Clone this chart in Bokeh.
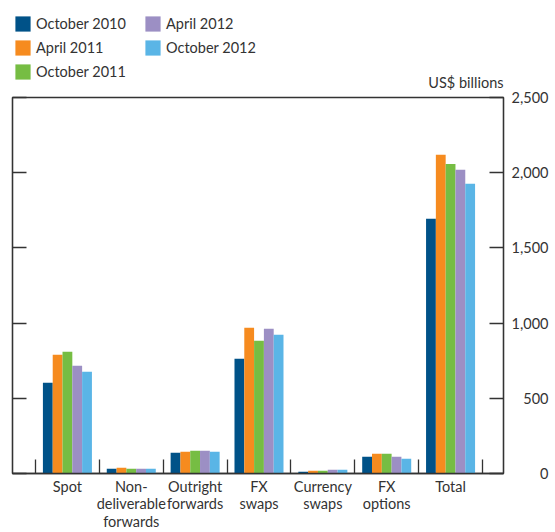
from bokeh.plotting import figure
from bokeh.layouts import column, row
from bokeh.models import (Range1d, LinearAxis, FixedTicker, Legend, LegendItem,
                          ColumnDataSource, Label)
from bokeh.embed import file_html
from bokeh.resources import INLINE

categories = ["Spot", "Non-\ndeliverable\nforwards", "Outright\nforwards", "FX\nswaps",
              "Currency\nswaps", "FX\noptions", "Total"]
series_names = ["October 2010", "April 2011", "October 2011", "April 2012", "October 2012"]
oct_2010 = [603, 31, 138, 763, 11, 111, 1693]
apr_2011 = [789, 38, 144, 969, 18, 131, 2119]
oct_2011 = [809, 31, 151, 882, 18, 131, 2058]
apr_2012 = [716, 31, 151, 962, 25, 111, 2019]
oct_2012 = [676, 31, 144, 922, 25, 98, 1926]
colors = ["#005288", "#F68B1F", "#76BD43", "#9C8FC4", "#5AB5E6"]
y_ticks = [0, 500, 1000, 1500, 2000, 2500]
y_tick_labels = ["0", "500", "1,000", "1,500", "2,000", "2,500"]
unit_label = "US$ billions"

FONT = "Lato"
TXT = "#333333"
LINE = "#333333"
FS = "14.5px"

series_values = [oct_2010, apr_2011, oct_2011, apr_2012, oct_2012]
n = len(categories)
cat_pos = [i + 1 for i in range(n)]
boundaries = [i + 0.5 for i in range(n + 1)]
bar_w = 0.1535

sources = [ColumnDataSource(dict(x=[c + (j - 2) * bar_w for c in cat_pos], top=vals))
           for j, vals in enumerate(series_values)]

# ---------------- top strip: legend + unit label ----------------
TOP_H = 90
top = figure(width=555, height=TOP_H, output_backend="svg", toolbar_location=None,
             x_range=Range1d(0, 555), y_range=Range1d(0, TOP_H),
             x_axis_location=None, y_axis_location=None,
             min_border_left=0, min_border_right=0, min_border_top=0, min_border_bottom=0)
top.xgrid.visible = False
top.ygrid.visible = False
top.outline_line_color = None

leg_renderers = []
for src, col in zip(sources, colors):
    r = top.vbar(x="x", top="top", bottom=0, width=bar_w, source=src,
                 fill_color=col, line_color=None)
    r.visible = False
    leg_renderers.append(r)

legend = Legend(items=[LegendItem(label=nm, renderers=[r]) for nm, r in zip(series_names, leg_renderers)],
                location=(13, TOP_H - 81), orientation="vertical", nrows=3,
                glyph_width=19, glyph_height=19, label_height=19, label_width=102,
                label_standoff=4, spacing=5, padding=0, margin=0,
                border_line_color=None, background_fill_alpha=0,
                label_text_font=FONT, label_text_font_size=FS, label_text_color=TXT)
top.add_layout(legend, "center")
top.add_layout(Label(x=503, y=TOP_H - 82, x_units="screen", y_units="screen", text=unit_label,
                     text_align="right", text_baseline="middle", text_font=FONT,
                     text_font_size=FS, text_color=TXT))

# ---------------- main chart ----------------
MAIN_H = 532 - TOP_H
p = figure(width=506, height=MAIN_H, output_backend="svg", toolbar_location=None,
           x_range=Range1d(0.14, 7.829), y_range=Range1d(0, 2500),
           min_border_left=12, min_border_right=3, min_border_top=97 - TOP_H,
           min_border_bottom=58)
p.xgrid.visible = False
p.ygrid.visible = False
p.outline_line_color = LINE
p.outline_line_width = 1.3

for src, col in zip(sources, colors):
    p.vbar(x="x", top="top", bottom=0, width=bar_w, source=src,
           fill_color=col, line_color=None)

xa = p.xaxis[0]
xa.ticker = FixedTicker(ticks=cat_pos, minor_ticks=boundaries)
xa.major_label_overrides = {c: lab for c, lab in zip(cat_pos, categories)}
xa.major_tick_in = 0
xa.major_tick_out = 0
xa.minor_tick_in = 14
xa.minor_tick_out = 0
xa.minor_tick_line_color = LINE
xa.minor_tick_line_width = 1.3
xa.major_label_text_font = FONT
xa.major_label_text_font_size = FS
xa.major_label_text_color = TXT
xa.major_label_text_line_height = 1.03
xa.major_label_standoff = 4
xa.axis_line_color = LINE
xa.axis_line_width = 1.5

ya = p.yaxis[0]
ya.ticker = FixedTicker(ticks=y_ticks)
ya.major_tick_in = 14
ya.major_tick_out = 0
ya.minor_tick_line_color = None
ya.major_tick_line_color = LINE
ya.major_tick_line_width = 1.3
ya.major_label_text_font_size = "0px"
ya.major_label_standoff = 0
ya.axis_line_color = LINE
ya.axis_line_width = 1.3

ra = LinearAxis(ticker=FixedTicker(ticks=y_ticks), major_tick_in=14, major_tick_out=0,
                minor_tick_line_color=None, major_tick_line_color=LINE,
                major_tick_line_width=1.3, major_label_text_font_size="0px",
                major_label_standoff=0, axis_line_color=LINE, axis_line_width=1.3)
p.add_layout(ra, "right")

# ---------------- right strip: y tick labels (right-aligned via a left axis) ----------------
lab = figure(width=49, height=MAIN_H, output_backend="svg", toolbar_location=None,
             x_range=Range1d(0, 1), y_range=p.y_range,
             x_axis_location=None, y_axis_location="left",
             min_border_left=42, min_border_right=0, min_border_top=97 - TOP_H,
             min_border_bottom=58)
lab.xgrid.visible = False
lab.ygrid.visible = False
lab.outline_line_color = None
la = lab.yaxis[0]
la.ticker = FixedTicker(ticks=y_ticks)
la.major_label_overrides = {t: s for t, s in zip(y_ticks, y_tick_labels)}
la.major_tick_in = 0
la.major_tick_out = 0
la.major_tick_line_color = None
la.minor_tick_line_color = None
la.axis_line_color = None
la.major_label_standoff = 0
la.major_label_text_font = FONT
la.major_label_text_font_size = FS
la.major_label_text_color = TXT

layout = column(top, row(p, lab, spacing=0), spacing=0)
open("out.html", "w").write(file_html(layout, INLINE))
